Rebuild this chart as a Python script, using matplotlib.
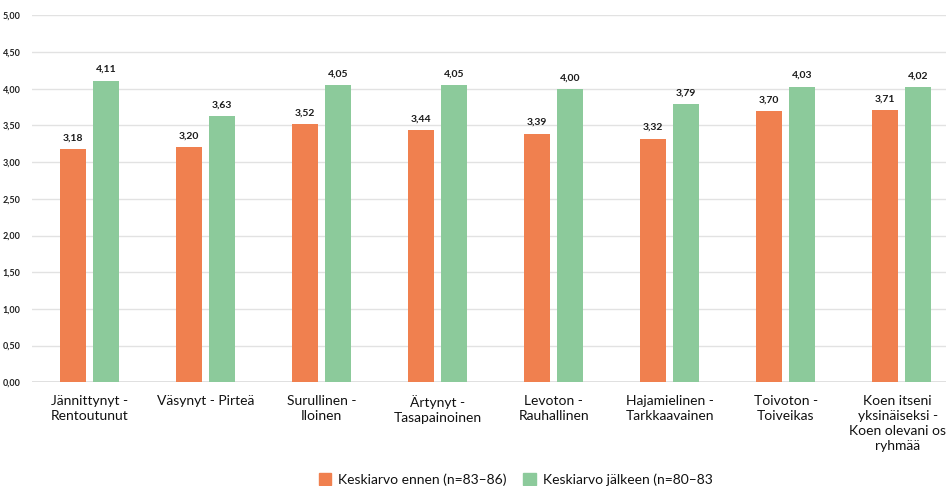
import numpy as np
import matplotlib.pyplot as plt
import matplotlib.transforms as mtransforms
from matplotlib.patches import Patch

plt.rcParams['font.family'] = ['Lato', 'DejaVu Sans']

# data
categories = ['Jännittynyt -\nRentoutunut', 'Väsynyt - Pirteä', 'Surullinen -\nIloinen',
              'Ärtynyt -\nTasapainoinen', 'Levoton -\nRauhallinen', 'Hajamielinen -\nTarkkaavainen',
              'Toivoton -\nToiveikas', 'Koen itseni\nyksinäiseksi -\nKoen olevani os\nryhmää']
before = [3.18, 3.20, 3.52, 3.44, 3.39, 3.32, 3.70, 3.71]
after = [4.11, 3.63, 4.05, 4.05, 4.00, 3.79, 4.03, 4.02]
series_labels = ['Keskiarvo ennen (n=83–86)', 'Keskiarvo jälkeen (n=80–83']
yticks = [0, 0.5, 1, 1.5, 2, 2.5, 3, 3.5, 4, 4.5, 5]

c_before = '#F0804F'
c_after = '#8CCA9B'

fig = plt.figure(figsize=(9.46, 4.86), dpi=100)
ax = fig.add_axes([31.8 / 946, 0.2134, 928 / 946, 0.755])

x = np.arange(len(categories))
w = 0.224
off = 0.142
b1 = ax.bar(x - off, before, w, color=c_before, zorder=3)
b2 = ax.bar(x + off, after, w, color=c_after, zorder=3)

for bars, vals in ((b1, before), (b2, after)):
    for r, v in zip(bars, vals):
        ax.text(r.get_x() + r.get_width() / 2, v + 0.09, f'{v:.2f}'.replace('.', ','),
                ha='center', va='bottom', fontsize=7.5, fontweight='bold', color='#1a1a1a')

ax.set_xlim(-0.5, 7.5)
ax.set_ylim(0, 5)
ax.set_yticks(yticks)
ax.set_yticklabels([f'{t:.2f}'.replace('.', ',') for t in yticks],
                   fontsize=6.5, fontweight='bold', color='#222222')
ax.grid(axis='y', color='#e2e2e2', linewidth=1, zorder=0)
ax.tick_params(axis='y', length=0, pad=8)
ax.tick_params(axis='x', length=0, pad=9)
ax.set_xticks(x)
ax.set_xticklabels(categories, fontsize=10, color='#111111',
                   linespacing=1.32, va='top')
# nudge the last (widest) label so it stays inside the image
last = ax.get_xticklabels()[-1]
last.set_transform(last.get_transform() + mtransforms.ScaledTranslation(-4 / 100, 0, fig.dpi_scale_trans))
for s in ax.spines.values():
    s.set_visible(False)
ax.axhline(0, color='#dcdcdc', linewidth=1.2, zorder=2)

handles = [Patch(color=c_before), Patch(color=c_after)]
fig.legend(handles, series_labels, loc='center', bbox_to_anchor=(0.545, 0.013),
           ncol=2, frameon=False, handlelength=0.9, handleheight=0.9,
           handletextpad=0.5, columnspacing=1.2, labelcolor='#111111',
           prop={'size': 10})

fig.savefig('out.png', dpi=100)
